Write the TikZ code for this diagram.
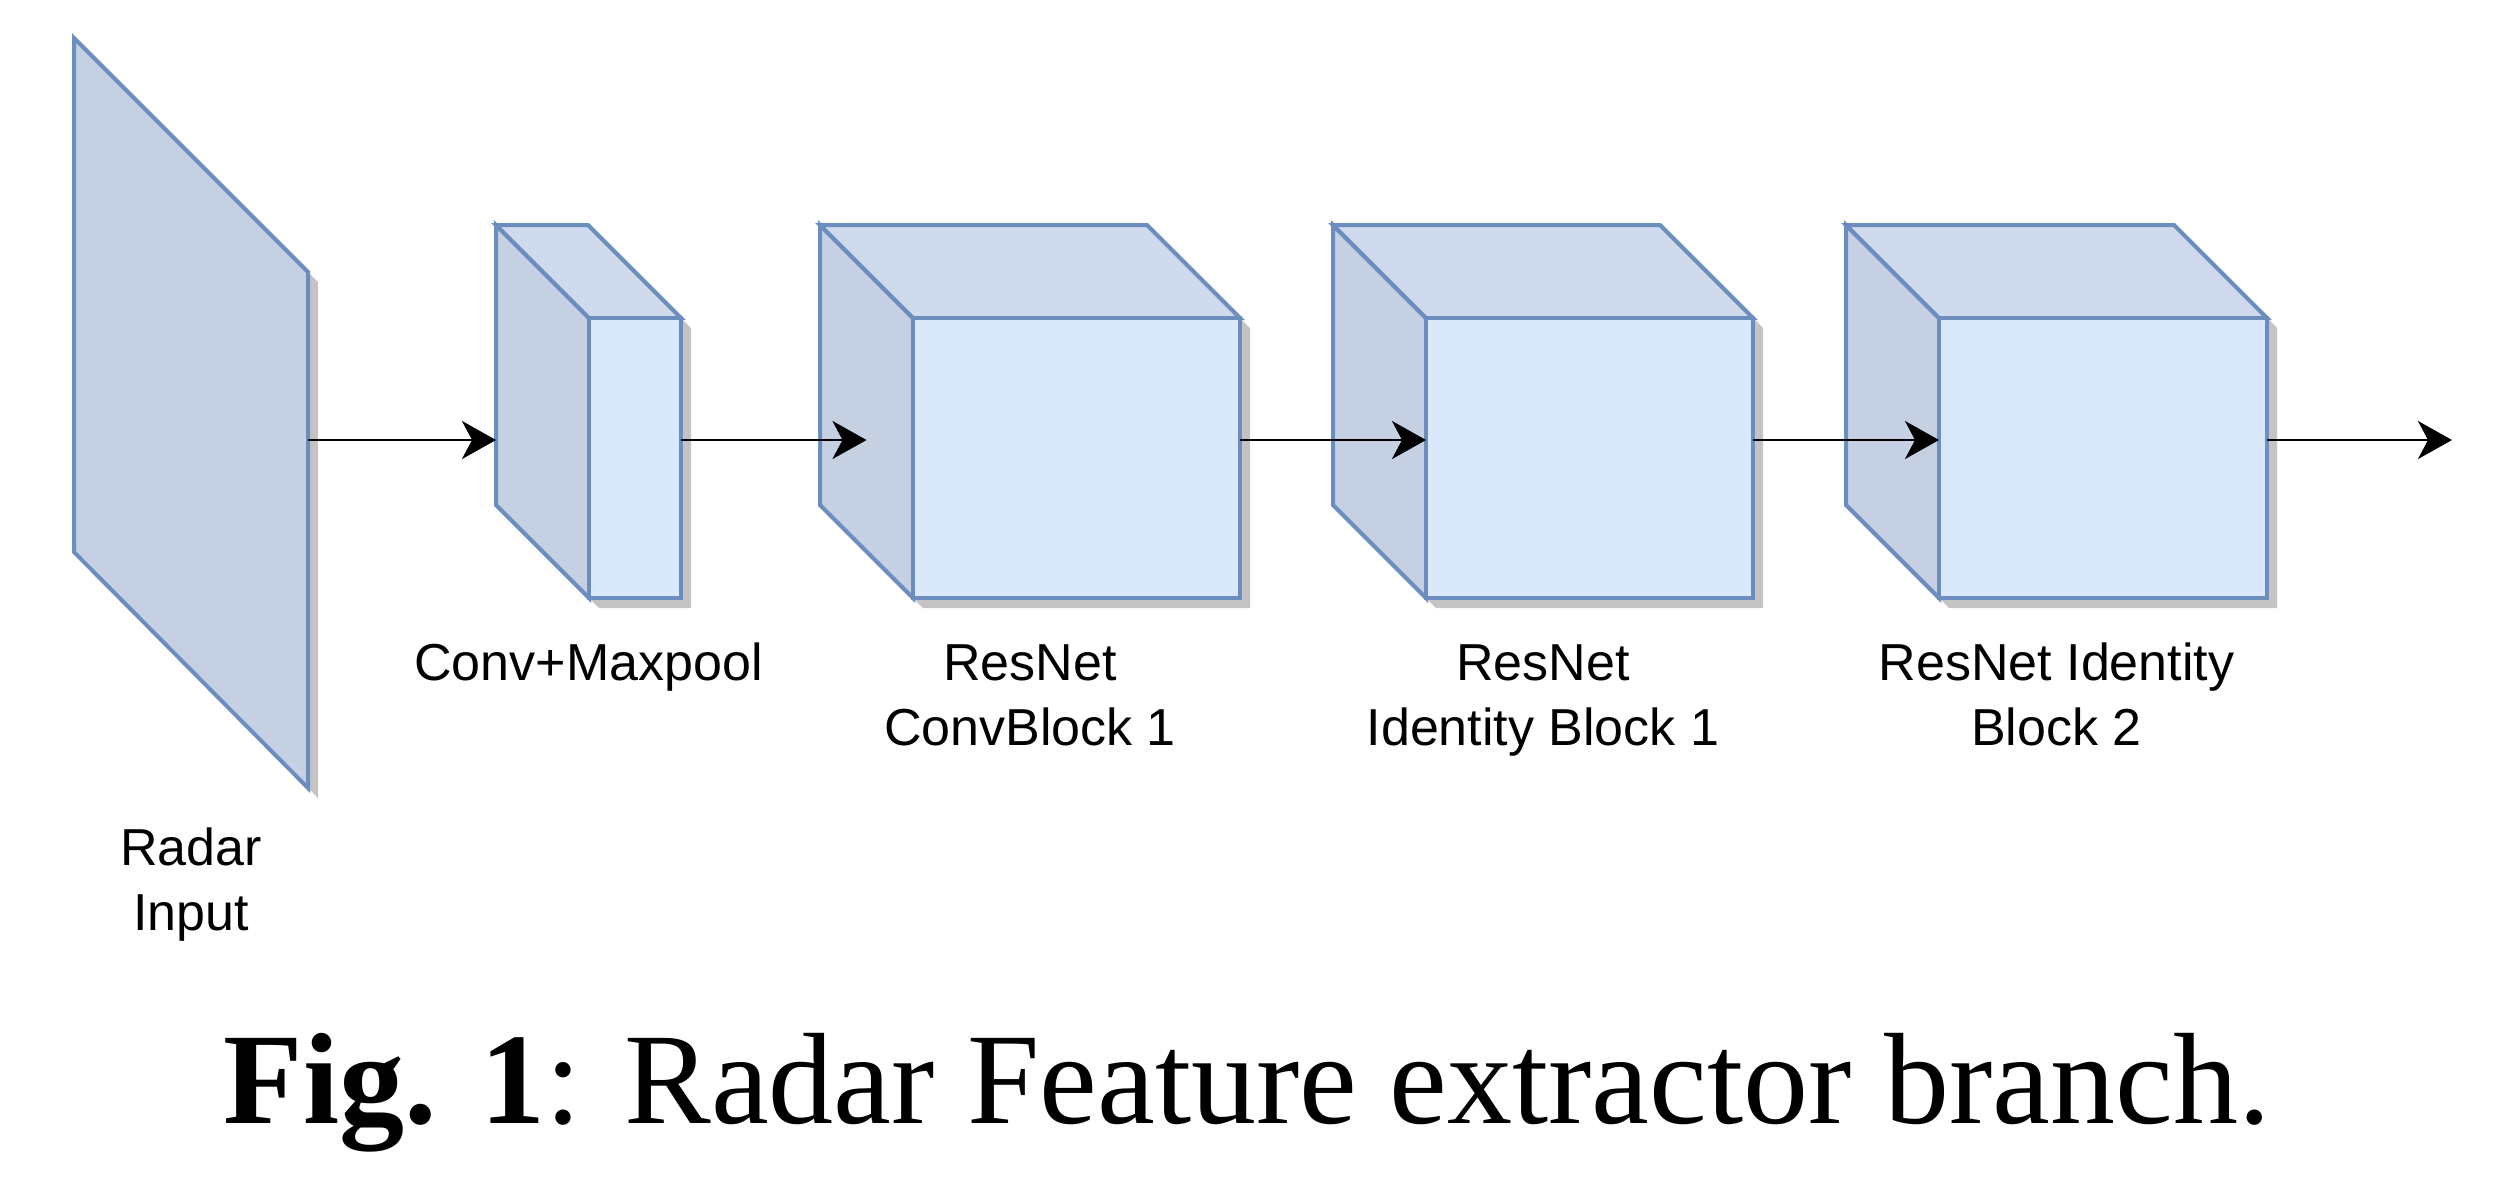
\documentclass[tikz,border=0pt]{standalone}
\usepackage{fontspec}
\setmainfont{Liberation Serif}
\newfontfamily\labelfont{Liberation Sans}
\usetikzlibrary{arrows.meta}
\definecolor{boxline}{HTML}{6C8EBF}
\definecolor{boxfront}{HTML}{DAE8FC}
\definecolor{boxtop}{HTML}{CFDBEC}
\definecolor{boxside}{HTML}{C5D1E3}
\definecolor{boxshadow}{HTML}{C4C4C4}

\begin{document}
\begin{tikzpicture}[x=0.25pt, y=-0.25pt,
        face/.style={draw=boxline, line width=1pt},
        shade/.style={fill=boxshadow, draw=none},
        flow/.style={-{Stealth[length=8.5pt, width=9.5pt, inset=2.5pt]}, line width=0.65pt},
        lbl/.style={font=\labelfont\fontsize{13}{16.25}\selectfont, align=center, anchor=base, inner sep=0pt}]
    \useasboundingbox (0,0) rectangle (2494,1182);
    % radar input plane
    \fill[shade, shift={(10,10)}] (74,38) -- (308,272) -- (308,788) -- (74,552) -- cycle;
    \draw[face, fill=boxside] (74,38) -- (308,272) -- (308,788) -- (74,552) -- cycle;
    \coordinate (radar-out) at (308,440);
    \node[lbl] (radar-label) at (191,930) {Radar\\Input};
    % blocks: name / front left x / front width / last baseline / label
    \def\dep{93}
    \foreach \blk/\fx/\w/\ly/\txt in {conv/589/92/680/{Conv+Maxpool}, cb1/913/327/745/{ResNet\\ConvBlock 1},
            ib1/1426/327/745/{ResNet\\Identity Block 1}, ib2/1939/328/745/{ResNet Identity\\Block 2}} {
        \fill[shade, shift={(10,10)}] ({\fx-\dep},225) -- ({\fx-\dep+\w},225) -- ({\fx+\w},318)
            -- ({\fx+\w},598) -- (\fx,598) -- ({\fx-\dep},505) -- cycle;
        \draw[face, fill=boxside] ({\fx-\dep},225) -- (\fx,318) -- (\fx,598) -- ({\fx-\dep},505) -- cycle;
        \draw[face, fill=boxtop] ({\fx-\dep},225) -- ({\fx-\dep+\w},225) -- ({\fx+\w},318) -- (\fx,318) -- cycle;
        \node[face, fill=boxfront, inner sep=0pt, minimum width=\w*0.25pt, minimum height=70pt] (\blk) at ({\fx+\w/2},458) {};
        \coordinate (\blk-back) at ({\fx-\dep},440);
        \coordinate (\blk-mid) at ({\fx-\dep/2},440);
        \coordinate (\blk-front) at (\fx,440);
        \coordinate (\blk-out) at ({\fx+\w},440);
        \node[lbl] (\blk-label) at ({\fx+\w/2-\dep/2},\ly) {\txt};
    }
    \coordinate (out-end) at (2452,440);
    % connections
    \draw[flow] (radar-out) -- (conv-back);
    \draw[flow] (conv-out) -- (cb1-mid);
    \draw[flow] (cb1-out) -- (ib1-front);
    \draw[flow] (ib1-out) -- (ib2-front);
    \draw[flow] (ib2-out) -- (out-end);
    % caption
    \node[anchor=base, inner sep=0pt, font=\fontsize{32.5}{39}\selectfont] (caption) at (1247,1123)
        {\textbf{Fig. 1}: Radar Feature extractor branch.};
\end{tikzpicture}
\end{document}
